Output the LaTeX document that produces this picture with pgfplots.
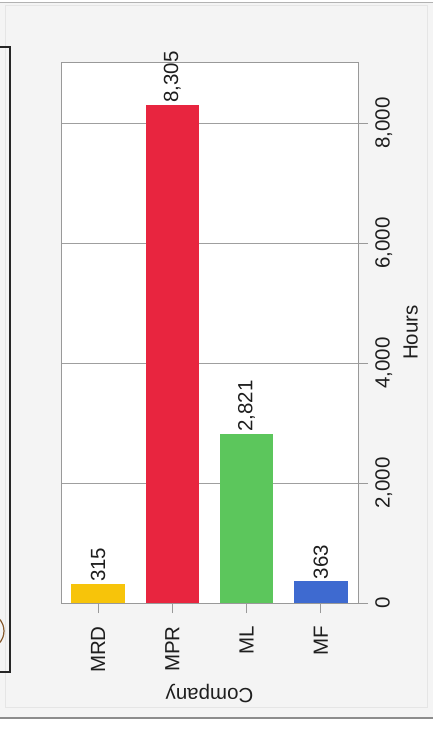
\documentclass[border=0pt]{standalone}
\usepackage{fontspec}
\setmainfont{Liberation Sans}
\usepackage{pgfplots}
\pgfplotsset{compat=1.18}
\usetikzlibrary{backgrounds}
\definecolor{cMRD}{HTML}{F7C40A}
\definecolor{cMPR}{HTML}{E8253F}
\definecolor{cML}{HTML}{5CC65C}
\definecolor{cMF}{HTML}{3E6AD0}
\definecolor{panel}{HTML}{F4F4F4}
\definecolor{txt}{HTML}{1E1E1E}
\newcommand{\fs}{\fontsize{20.5}{24}\selectfont}
\begin{document}
\begin{tikzpicture}
\begin{axis}[
  width=297pt, height=541pt, scale only axis,
  xmin=-0.5, xmax=3.5, ymin=0, ymax=9017,
  ybar, bar width=0.72, bar shift=0pt,
  axis background/.style={fill=white},
  axis line style={gray!80},
  xtick={0,1,2,3}, xticklabels={MRD,MPR,ML,MF},
  xtick pos=bottom, ytick pos=right,
  yticklabel pos=right,
  ytick={0,2000,4000,6000,8000},
  tick align=outside, major tick length=10pt,
  every tick/.style={gray!80, line width=0.8pt},
  ymajorgrids, grid style={gray!75, line width=0.8pt},
  /pgf/number format/.cd, 1000 sep={,}, assume math mode=true, /pgfplots/.cd,
  scaled y ticks=false,
  xticklabel shift=11pt, yticklabel shift=5pt,
  xticklabel style={rotate=90, anchor=east, font=\fs, text=txt, inner sep=2pt},
  yticklabel style={rotate=90, anchor=north, font=\fs, text=txt, inner sep=2pt},
  xlabel={Company}, ylabel={Hours},
  xlabel style={at={(axis description cs:0.5,-0.168)}, anchor=center, rotate=180, font=\fs, text=txt},
  ylabel style={at={(axis description cs:1.177,0.5)}, anchor=center, font=\fs, text=txt},
  nodes near coords,
  nodes near coords style={rotate=90, anchor=west, font=\fs, text=txt, inner sep=2pt},
]
\addplot[fill=cMRD, draw=none] coordinates {(0,315)};
\addplot[fill=cMPR, draw=none] coordinates {(1,8305)};
\addplot[fill=cML, draw=none] coordinates {(2,2821)};
\addplot[fill=cMF, draw=none] coordinates {(3,363)};
\coordinate (ax) at (rel axis cs:0,0);
\end{axis}
\begin{scope}[shift={(ax)}, x=1pt, y=1pt]
\begin{scope}[shift={(-61,603)}]
\pgfresetboundingbox
\useasboundingbox (0,0) rectangle (433,-730);
\begin{pgfonlayer}{background}
\fill[white] (0,0) rectangle (433,-730);
\fill[panel] (0,-2) rectangle (433,-718);
\draw[gray!60] (0,-2) -- (433,-2);
\draw[gray!90,line width=1.5pt] (0,-718) -- (433,-718);
\draw[gray!20] (5,-5) rectangle (427,-707);
\begin{scope}
\clip (0,0) rectangle (433,-730);
\draw[black!85,line width=1.5pt] (0,-47) -- (10,-47) -- (10,-672) -- (0,-672);
\draw[brown!70!black,line width=1.2pt] (-14,-631) circle (18);
\end{scope}
\end{pgfonlayer}
\end{scope}
\end{scope}
\end{tikzpicture}
\end{document}
